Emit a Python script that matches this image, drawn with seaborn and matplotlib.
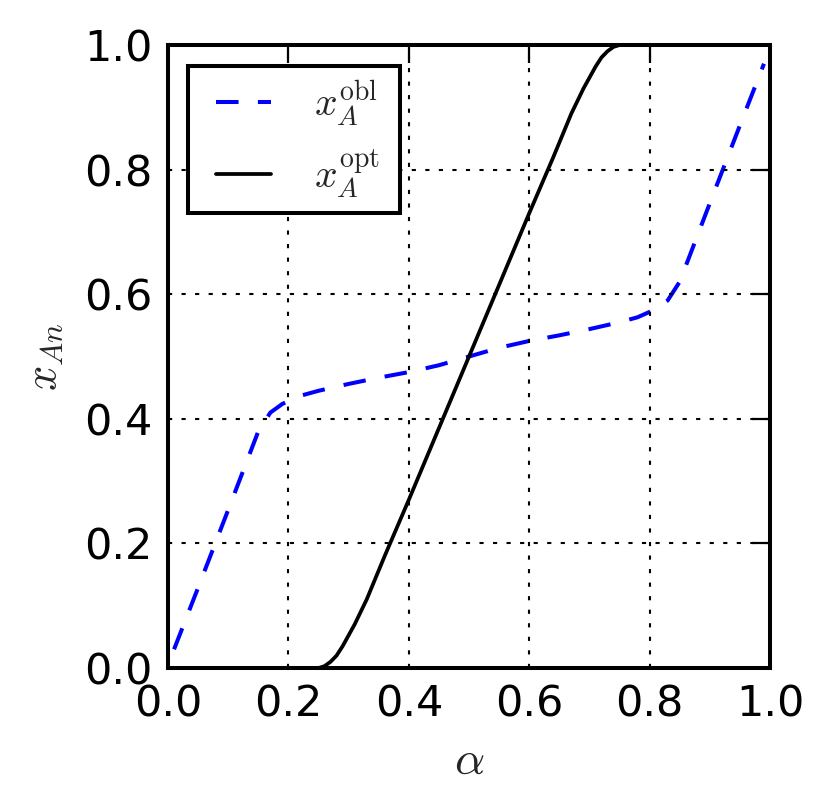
import pandas as pd
import matplotlib
matplotlib.use("Agg")
import matplotlib.pyplot as plt
import seaborn as sns
from matplotlib.legend_handler import HandlerLine2D

# ---------------------------------------------------------------------------
# data
# ---------------------------------------------------------------------------
alpha_obl = [0.01, 0.05, 0.10, 0.15, 0.17, 0.19, 0.22, 0.25, 0.30, 0.35, 0.40,
             0.45, 0.50, 0.55, 0.60, 0.65, 0.70, 0.75, 0.78, 0.81, 0.83, 0.85,
             0.90, 0.95, 0.99]
x_obl = [0.03, 0.129, 0.254, 0.38, 0.41, 0.424, 0.437, 0.445, 0.456, 0.466,
         0.475, 0.486, 0.50, 0.514, 0.525, 0.534, 0.544, 0.555, 0.563, 0.576,
         0.59, 0.62, 0.746, 0.871, 0.97]

alpha_opt = [0.25, 0.26, 0.27, 0.28, 0.29, 0.31, 0.33, 0.36, 0.40, 0.50,
             0.60, 0.64, 0.67, 0.69, 0.71, 0.72, 0.73, 0.74, 0.75, 0.76]
x_opt = [0.0, 0.003, 0.01, 0.02, 0.035, 0.07, 0.11, 0.18, 0.27, 0.50,
         0.73, 0.82, 0.89, 0.93, 0.965, 0.98, 0.99, 0.997, 1.0, 1.0]

ticks = [0.0, 0.2, 0.4, 0.6, 0.8, 1.0]

sns.set_style("white")
plt.rcParams["mathtext.fontset"] = "cm"
plt.rcParams["font.family"] = ["DejaVu Sans"]

fig = plt.figure(figsize=(8.31, 8.10), dpi=100)
ax = fig.add_axes([0.2022, 0.1753, 0.7244, 0.7691])

df_obl = pd.DataFrame({"alpha": alpha_obl, "x": x_obl})
df_opt = pd.DataFrame({"alpha": alpha_opt, "x": x_opt})

sns.lineplot(data=df_obl, x="alpha", y="x", ax=ax, color="blue", lw=2.9,
             linestyle=(0, (5.6, 4.8)), label=r"$x_A^{\mathrm{obl}}$")
sns.lineplot(data=df_opt, x="alpha", y="x", ax=ax, color="black", lw=2.7,
             label=r"$x_A^{\mathrm{opt}}$")

ax.set_xlim(0, 1)
ax.set_ylim(0, 1)
ax.set_xticks(ticks)
ax.set_yticks(ticks)
ax.set_xticklabels([f"{t:.1f}" for t in ticks])
ax.set_yticklabels([f"{t:.1f}" for t in ticks])
ax.tick_params(direction="in", length=13, width=1.6, labelsize=31, pad=11,
               top=True, right=True, colors="black")

ax.grid(True, color="black", linestyle=(0, (2, 4.5)), lw=1.5)
ax.set_axisbelow(False)
for sp in ax.spines.values():
    sp.set_linewidth(2.9)
    sp.set_color("black")

ax.set_xlabel(r"$\alpha$", fontsize=34, labelpad=10)
ax.set_ylabel(r"$x_{An}$", fontsize=32, labelpad=14)

# legend box stretched to the width seen in the reference
leg = ax.legend(loc="upper left", bbox_to_anchor=(0.033, 0.5, 0.352, 0.466),
                mode="expand", borderaxespad=0, fontsize=28.5, fancybox=False,
                framealpha=1, handlelength=1.8, handletextpad=1.08,
                borderpad=0.3, labelspacing=0.5,
                handler_map={ln: HandlerLine2D(xpad=0.4) for ln in ax.get_lines()})
leg.get_frame().set_edgecolor("black")
leg.get_frame().set_linewidth(2.9)

fig.savefig("out.png", dpi=100)
